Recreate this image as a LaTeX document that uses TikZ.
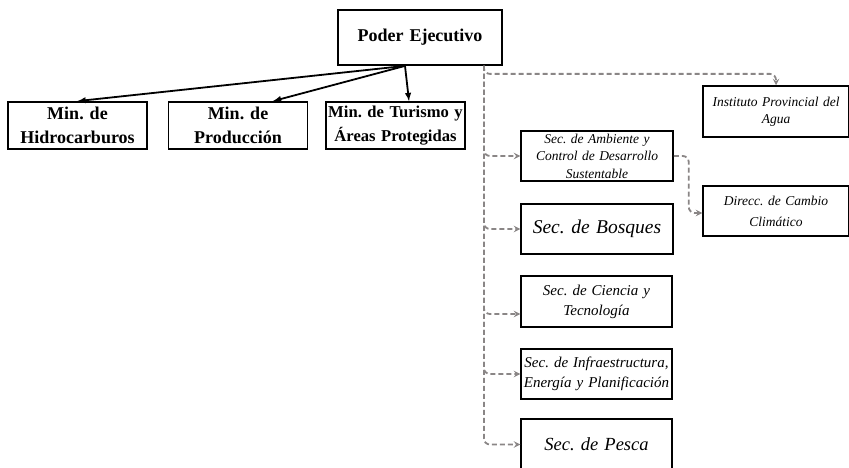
\documentclass[tikz,border=0pt]{standalone}
\usepackage{xcolor}
\usepackage{tikz}
\usepackage{fontspec}
\setmainfont{Liberation Serif}
\usetikzlibrary{calc}
\usetikzlibrary{arrows}
\definecolor{lnkgray}{RGB}{138,134,134}
\frenchspacing

\begin{document}
\begin{tikzpicture}[x=1pt,y=-1pt,
  minnode/.style={draw,line width=1.8pt,inner sep=0pt,minimum width=139pt,minimum height=47pt,text width=139pt,align=center,font=\fontsize{18}{24}\selectfont\bfseries},
  secnode/.style={draw,line width=1.5pt,inner sep=0pt,minimum width=152pt,minimum height=50pt,text width=150pt,align=center,font=\fontsize{15}{20}\selectfont\itshape},
  linkline/.style={-stealth,lnkgray,dash pattern=on 5pt off 3pt,line width=1.8pt,rounded corners=6pt}]
  %\draw[help lines] (0,0) grid[step=50] (849,468);
  \useasboundingbox (0,0) rectangle (849,468);

  \draw (420,37.5) node[minnode,minimum width=164pt,minimum height=55pt,text width=160pt](PE) {Poder Ejecutivo};

  \draw ( 77.5,125.5) node[minnode](Hid) {Min. de\\Hidrocarburos};
  \draw (238  ,125.5) node[minnode,minimum width=138pt](Pro) {Min. de\\Producción};
  \draw (395.5,125.5) node[minnode,font=\fontsize{16.6}{24}\selectfont\bfseries](Tur) {Min. de Turismo y\\Áreas Protegidas};

  \draw (776,111.5) node[secnode,minimum width=146pt,minimum height=51pt,text width=144pt,font=\fontsize{13.5}{17}\selectfont\itshape](Inst) {Instituto Provincial del\\Agua};
  \draw (597,156)   node[secnode,font=\fontsize{13.5}{17.5}\selectfont\itshape](Amb) {Sec. de Ambiente y\\Control de Desarrollo\\Sustentable};
  \draw (776,211)   node[secnode,minimum width=146pt,text width=144pt,font=\fontsize{13.5}{21}\selectfont\itshape](Dir) {Direcc. de Cambio\\Climático};
  \draw (597,229)   node[secnode,font=\fontsize{19.5}{24}\selectfont\itshape](Bos) {Sec. de Bosques};
  \draw (596.5,301.5) node[secnode,minimum width=151pt,minimum height=51pt](Cie) {Sec. de Ciencia y\\Tecnología};
  \draw (596.5,374)   node[secnode,minimum width=151pt](Inf) {Sec. de Infraestructura,\\Energía y Planificación};
  \draw (596.5,444.5) node[secnode,minimum width=151pt,minimum height=51pt,font=\fontsize{18.5}{24}\selectfont\itshape](Pes) {Sec. de Pesca};

  \coordinate (pe)  at ([xshift=-15pt]PE.south);
  \coordinate (trk) at ([xshift=-19pt]PE.south east);

  \draw[-latex,line width=1.8pt] (pe) -- (Hid.north);
  \draw[-latex,line width=1.8pt] (pe) -- ([xshift=35pt]Pro.north);
  \draw[-latex,line width=1.8pt] (pe) -- ([xshift=13.5pt]Tur.north);

  \draw[linkline] (trk) -- ++(0,8) -| (Inst.north);
  \draw[linkline] (trk) |- (Amb.west);
  \draw[linkline] (trk) |- (Bos.west);
  \draw[linkline] (trk) |- ([yshift=-12.5pt]Cie.west);
  \draw[linkline] (trk) |- (Inf.west);
  \draw[linkline] (trk) |- (Pes.west);

  \draw[linkline] (Amb.east) -- ++(15,0) |- ([yshift=-2pt]Dir.west);

\end{tikzpicture}
\end{document}
